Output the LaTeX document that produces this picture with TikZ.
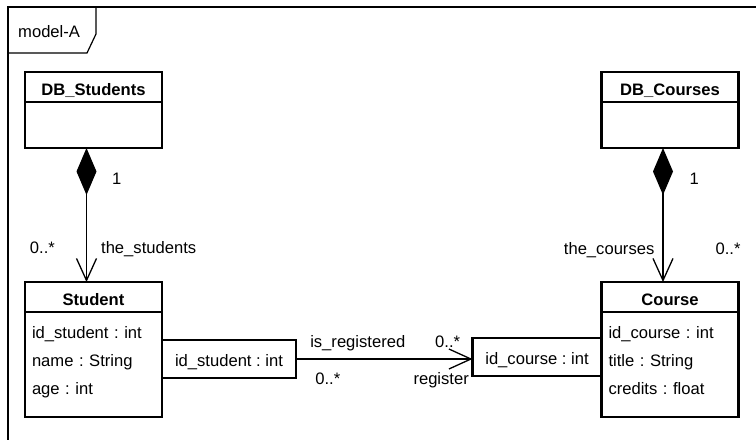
\documentclass[tikz,border=0pt]{standalone}
\usepackage{fontspec}
\setmainfont{Liberation Sans}
\usetikzlibrary{arrows.meta,positioning}
\frenchspacing

\begin{document}
\begin{tikzpicture}[x=1pt, y=-1pt, font=\fontsize{16.6}{28}\selectfont,
  box/.style={draw, line width=2.2pt, outer sep=0pt, inner sep=0pt, minimum width=137pt},
  head/.style={box, text height=23pt, text depth=7pt, font=\fontsize{16.6}{28}\selectfont\bfseries},
  body/.style={box, inner xsep=7pt, align=left, text width=123pt, text height=26pt, text depth=79pt},
  qual/.style={draw, line width=2.2pt, outer sep=0pt, inner sep=0pt, text height=26pt, text depth=12pt},
  lbl/.style={inner sep=0pt},
  comp/.style={line width=1.3pt, {Diamond[length=47pt,width=20pt]}-{Straight Barb[length=22pt,width=20pt]}},
  nav/.style={line width=1.3pt, -{Straight Barb[length=22pt,width=20pt]}}]
  \useasboundingbox (0,0) rectangle (756,440);

  \draw[line width=1.2pt] (756,7) -- (8,7) -- (8,440);
  \draw[line width=1.2pt] (96,7) -- (96,34) -- (87,53) -- (8,53);
  \node[lbl, anchor=base west] (title) at (18,37) {model-A};

  \node[head] (dbs) at (93.5,87) {DB\_Students};
  \node[box, minimum height=46pt, below=0pt of dbs] (dbsb) {};
  \node[head] (dbc) at (670,87) {DB\_Courses};
  \node[box, minimum height=46pt, below=0pt of dbc] (dbcb) {};

  \node[head] (stu) at (93.5,297) {Student};
  \node[body, below=0pt of stu] (stub) {id\_student : int\\name : String\\age : int};
  \node[head] (cou) at (670,297) {Course};
  \node[body, below=0pt of cou] (coub) {id\_course : int\\title : String\\credits : float};

  \node[qual, minimum width=134pt, right=0pt of stub, yshift=5.5pt] (qs) {id\_student : int};
  \node[qual, minimum width=129pt, left=0pt of coub, yshift=7.5pt] (qc) {id\_course : int};

  \draw[comp] ([xshift=-7pt]dbsb.south) -- ([xshift=-7pt]stu.north)
    node[lbl, pos=.27, anchor=base west, xshift=25pt] {1}
    node[lbl, pos=.784, anchor=base east, xshift=-31pt] {0..*}
    node[lbl, pos=.784, anchor=base west, xshift=14pt] {the\_students};
  \draw[comp] ([xshift=-7pt]dbcb.south) -- ([xshift=-7pt]cou.north)
    node[lbl, pos=.27, anchor=base west, xshift=26pt] {1}
    node[lbl, pos=.798, anchor=base east, xshift=-8pt] {the\_courses}
    node[lbl, pos=.798, anchor=base west, xshift=52pt] {0..*};
  \draw[nav] (qs.east) -- (qs.east -| qc.west)
    node[lbl, pos=.35, anchor=base, yshift=12pt] {is\_registered}
    node[lbl, pos=.859, anchor=base, yshift=12pt] {0..*}
    node[lbl, pos=.18, anchor=base, yshift=-25pt] {0..*}
    node[lbl, pos=.983, anchor=base east, yshift=-25pt] {register};
\end{tikzpicture}
\end{document}
